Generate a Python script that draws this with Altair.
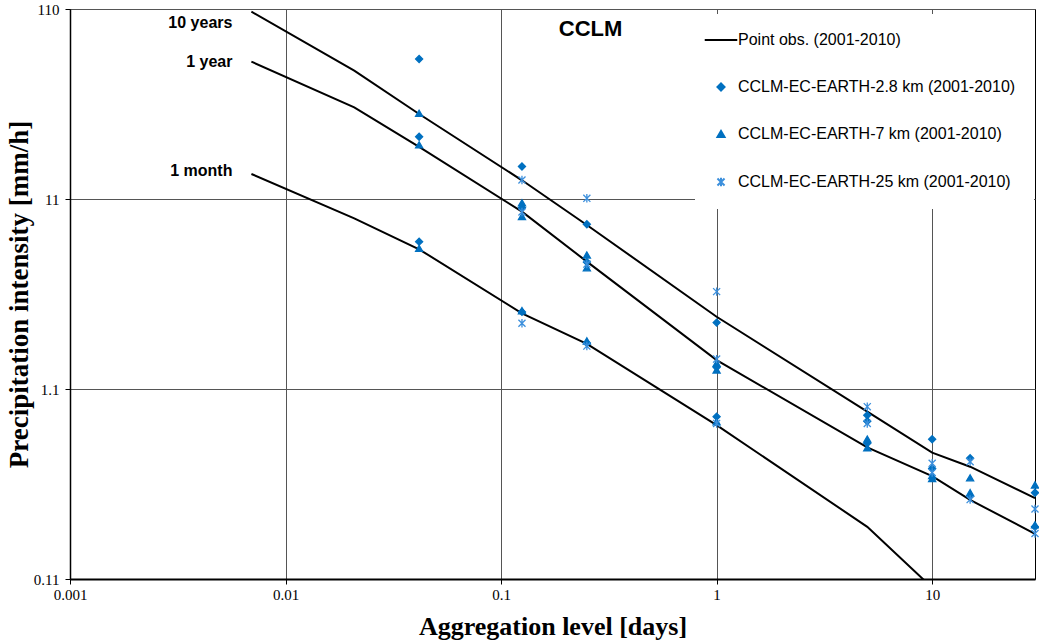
import altair as alt
import pandas as pd

# ---- data ----
# aggregation levels in days: 10 min, 30 min, 1 h, 3 h, 6 h, 1 d, 5 d, 10 d, 15 d, 30 d
dur_obs = [0.006944, 0.020833, 0.041667, 0.125, 0.25, 1, 5, 10, 15, 30]
obs_10yr = [106.5, 52.1, 30.8, 13.8, 8.03, 2.64, 0.836, 0.509, 0.429, 0.293]
obs_1yr = [58.1, 33.4, 20.7, 9.44, 5.15, 1.56, 0.542, 0.383, 0.287, 0.190]
obs_1mon = [14.9, 8.70, 5.98, 2.75, 1.90, 0.71, 0.207, 0.099]

period_names = ["10 years", "1 year", "1 month"]
period_label_y = [93.0, 58.1, 15.4]

x_28 = [0.041667, 0.041667, 0.041667, 0.125, 0.125, 0.125, 0.25, 0.25, 0.25,
        1, 1, 1, 5, 5, 5, 10, 10, 15, 15, 30, 30]
y_28 = [60.0, 23.4, 6.56, 16.3, 9.9, 2.80, 8.10, 5.12, 1.92,
        2.46, 1.43, 0.787, 0.80, 0.745, 0.57, 0.598, 0.42, 0.475, 0.30, 0.313, 0.207]

x_7 = [0.041667, 0.041667, 0.041667, 0.125, 0.125, 0.125, 0.25, 0.25, 0.25,
       1, 1, 1, 5, 5, 10, 10, 15, 15, 30, 30]
y_7 = [31.1, 21.2, 6.05, 10.5, 8.9, 2.84, 5.58, 4.78, 1.97,
       1.50, 1.385, 0.74, 0.60, 0.54, 0.385, 0.372, 0.375, 0.313, 0.344, 0.212]

x_25 = [0.125, 0.125, 0.125, 0.25, 0.25, 0.25, 1, 1, 1, 5, 5, 10, 10, 15, 15, 30, 30]
y_25 = [13.85, 9.4, 2.44, 11.09, 5.0, 1.85, 3.58, 1.58, 0.725, 0.888, 0.725,
        0.447, 0.40, 0.456, 0.288, 0.257, 0.191]

series_names = ["Point obs. (2001-2010)",
                "CCLM-EC-EARTH-2.8 km (2001-2010)",
                "CCLM-EC-EARTH-7 km (2001-2010)",
                "CCLM-EC-EARTH-25 km (2001-2010)"]

x_ticks = [0.001, 0.01, 0.1, 1, 10]
y_ticks = [0.11, 1.1, 11, 110]

panel_title = ["CCLM"]
panel_title_x = [0.26]
panel_title_y = [86.0]

# ---- tables ----
obs_rows = []
for name, vals in zip(period_names, [obs_10yr, obs_1yr, obs_1mon]):
    for d, v in zip(dur_obs, vals):
        obs_rows.append({"x": d, "y": v, "period": name})
df_obs = pd.DataFrame(obs_rows)

pt_rows = []
for name, xs, ys in [(series_names[1], x_28, y_28),
                     (series_names[2], x_7, y_7),
                     (series_names[3], x_25, y_25)]:
    for a, b in zip(xs, ys):
        pt_rows.append({"x": a, "y": b, "series": name})
df_pts = pd.DataFrame(pt_rows)

df_lab = pd.DataFrame({"x": [dur_obs[0]] * 3, "y": period_label_y, "t": period_names})
df_title = pd.DataFrame({"x": panel_title_x, "y": panel_title_y, "t": panel_title})

xscale = alt.Scale(type="log", domain=[0.001, 30], nice=False)
yscale = alt.Scale(type="log", domain=[0.11, 110], nice=False)

xaxis = alt.Axis(values=x_ticks, format="~g", title="Aggregation level [days]",
                 titleFont="Liberation Serif", titleFontSize=26, titleFontWeight="bold",
                 titleColor="#000", labelFont="Liberation Serif", labelFontSize=15,
                 labelColor="#000", labelFlush=False, labelPadding=3, titlePadding=11,
                 grid=True, gridColor="#555555", gridWidth=1, tickSize=5, tickColor="#000",
                 domainColor="#000", domainWidth=2)
yaxis = alt.Axis(values=y_ticks, format="~g", title="Precipitation intensity [mm/h] ",
                 titleFont="Liberation Serif", titleFontSize=27, titleFontWeight="bold",
                 titleColor="#000", labelFont="Liberation Serif", labelFontSize=15,
                 labelColor="#000", labelFlush=False, labelPadding=6, titlePadding=0,
                 grid=True, gridColor="#555555", gridWidth=1, tickSize=5, tickColor="#000",
                 domainColor="#000", domainWidth=1.5, titleLimit=0)

asterisk = "M-1,-1L1,1M-1,1L1,-1M0,-1.2L0,1.2"
obs_sym = "M-4.6,0L4.6,0"
shapes = [obs_sym, "diamond", "triangle-up", asterisk]
fills = ["transparent", "#0070C0", "#0070C0", "transparent"]
strokes = ["#000000", "#0070C0", "#0070C0", "#3C8FDC"]

leg = alt.Legend(title=None, orient="none", legendX=625, legendY=5,
                 fillColor="white", padding=18, rowPadding=31,
                 labelFont="Liberation Sans", labelFontSize=16, labelColor="#000",
                 labelOffset=9, symbolSize=50, symbolStrokeWidth=2, labelLimit=400)

lines = alt.Chart(df_obs).mark_line(color="black", strokeWidth=2, clip=True).encode(
    x=alt.X("x:Q", scale=xscale, axis=xaxis),
    y=alt.Y("y:Q", scale=yscale, axis=yaxis),
    detail="period:N",
)

points = alt.Chart(df_pts).mark_point(filled=True, opacity=1, size=50, strokeWidth=1.3).encode(
    x=alt.X("x:Q", scale=xscale),
    y=alt.Y("y:Q", scale=yscale),
    shape=alt.Shape("series:N", scale=alt.Scale(domain=series_names, range=shapes), legend=leg),
    fill=alt.Fill("series:N", scale=alt.Scale(domain=series_names, range=fills), legend=leg),
    stroke=alt.Stroke("series:N", scale=alt.Scale(domain=series_names, range=strokes), legend=leg),
)

labels = alt.Chart(df_lab).mark_text(align="right", baseline="middle", dx=-19,
                                     font="Liberation Sans", fontSize=16, fontWeight="bold",
                                     color="black").encode(
    x=alt.X("x:Q", scale=xscale), y=alt.Y("y:Q", scale=yscale), text="t:N")

title = alt.Chart(df_title).mark_text(align="center", baseline="middle",
                                      font="Liberation Sans", fontSize=22, fontWeight="bold",
                                      color="black").encode(
    x=alt.X("x:Q", scale=xscale), y=alt.Y("y:Q", scale=yscale), text="t:N")

chart = alt.layer(lines, points, labels, title).properties(
    width=965, height=570,
    autosize=alt.AutoSizeParams(type="none"),
    padding={"left": 70, "top": 9, "right": 4, "bottom": 65},
    background="white",
).configure_view(stroke="black", strokeWidth=1)

chart.save("out.html", embed_options={"renderer": "svg", "actions": False})
